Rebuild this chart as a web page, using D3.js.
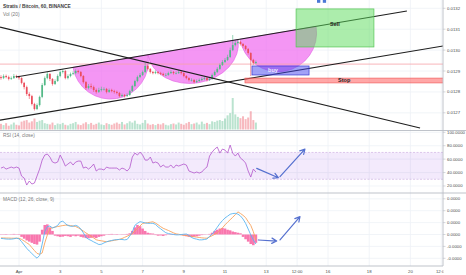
<!DOCTYPE html>
<html>
<head>
<meta charset="utf-8">
<script src="https://cdn.jsdelivr.net/npm/d3@7"></script>
<style>
  body { margin: 0; background: #fff; }
  svg { display: block; font-family: "Liberation Sans", Arial, sans-serif; }
  .axisText { font-size: 4.3px; fill: #4a4a4a; }
  .paneLabel { font-size: 4.8px; fill: #7a7a7a; }
</style>
</head>
<body>
<svg id="chart" width="466" height="275"></svg>
<script>
// ---- data (prices and MACD in units of 1e-6 BTC) ----
const xTickDays   = [1, 3, 5, 7, 9, 11, 13, 14.5, 16, 18, 20, 21.5];
const xTickLabels = ['Apr', '3', '5', '7', '9', '11', '13', '12:00', '16', '18', '20', '12:00'];
const priceTicks = [12700, 12800, 12900, 13000, 13100, 13200];
const rsiTicks = [20, 40, 60, 80, 100];
const macdTicks = [-20, -10, 0, 10, 20, 30];

const firstOpen = 12871;
const closes = [12866,12876,12871,12862,12866,12876,12871,12866,12843,12823,
  12790,12780,12742,12718,12737,12776,12833,12866,12886,12862,
  12838,12852,12876,12895,12900,12866,12876,12886,12890,12900,
  12895,12876,12847,12819,12828,12823,12809,12800,12809,12814,
  12814,12800,12809,12804,12800,12795,12780,12785,12780,12785,
  12804,12828,12852,12871,12881,12895,12924,12910,12895,12890,
  12895,12890,12886,12881,12881,12890,12895,12890,12890,12895,
  12890,12876,12866,12857,12857,12847,12852,12857,12862,12866,
  12857,12862,12881,12895,12910,12929,12943,12953,12967,13000,
  13024,13034,13039,13029,13020,13005,12986,12953,12938,12943];
const highs = [12880,12884,12883,12878,12874,12886,12882,12878,12870,12848,
  12830,12798,12786,12748,12745,12782,12842,12874,12895,12890,
  12866,12860,12884,12902,12910,12905,12884,12893,12898,12908,
  12906,12900,12880,12852,12838,12840,12830,12816,12820,12825,
  12822,12819,12816,12815,12810,12806,12800,12792,12790,12793,
  12810,12834,12858,12878,12890,12902,12938,12930,12914,12900,
  12903,12900,12896,12892,12890,12897,12904,12900,12898,12905,
  12900,12894,12880,12870,12865,12862,12860,12864,12870,12874,
  12872,12870,12888,12902,12918,12936,12952,12962,12978,13012,
  13072,13045,13050,13044,13034,13024,13010,12990,12958,12950];
const lows = [12858,12861,12865,12855,12857,12862,12866,12858,12836,12812,
  12781,12766,12735,12711,12713,12730,12770,12828,12860,12852,
  12830,12833,12848,12870,12888,12860,12860,12870,12880,12884,
  12888,12870,12840,12810,12812,12815,12800,12792,12795,12802,
  12806,12793,12795,12798,12792,12788,12774,12775,12773,12776,
  12781,12800,12823,12846,12866,12876,12890,12903,12888,12884,
  12885,12884,12880,12875,12874,12877,12886,12883,12884,12886,
  12883,12870,12860,12850,12850,12840,12842,12848,12852,12856,
  12850,12852,12858,12876,12890,12905,12924,12938,12948,12962,
  12995,13018,13028,13022,13012,12998,12978,12876,12930,12934];
const volumes = [18,14,20,12,16,22,15,13,25,28,
  30,22,26,35,24,28,30,20,18,16,
  22,14,19,17,21,15,13,18,20,24,
  16,14,19,23,17,21,15,18,22,16,
  14,20,17,15,19,22,18,24,16,20,
  26,22,28,18,16,21,30,19,15,17,
  14,18,16,20,15,13,17,19,16,22,
  18,15,20,24,17,19,22,16,25,18,
  21,17,26,24,28,30,27,35,45,52,
  100,48,40,36,42,33,38,58,30,22];
const rsi = [46.7,48.2,45.2,46.7,48.2,46.7,48.2,46.7,34.8,31.8,
  21.4,27.4,22.9,24.4,34.8,45.2,58.6,66.1,67.6,63.1,
  55.7,54.2,55.7,66.1,58.6,49.7,52.7,55.7,51.2,55.7,
  57.1,57.1,46.7,48.2,45.2,48.2,52.7,42.3,45.2,45.2,
  43.8,48.2,46.7,46.7,46.7,46.7,43.8,46.7,45.2,42.3,
  46.7,63.1,69.0,66.1,70.5,66.1,58.6,58.6,63.1,54.2,
  55.7,54.2,48.2,51.2,48.2,48.2,51.2,46.7,51.2,49.7,
  51.2,52.7,51.2,42.3,40.8,39.3,40.8,39.3,40.8,45.2,
  48.2,64.6,70.5,75.0,78.0,69.0,75.0,73.5,69.0,81.0,
  69.0,64.6,69.0,61.6,58.6,54.2,42.3,33.3,45.2,40.8];
const macd = [-3.3,-3.5,-3.8,-3.9,-3.9,-3.6,-3.1,-3.6,-6.0,-8.8,
  -11.6,-13.9,-16.0,-18.1,-19.9,-17.6,-8.0,2.5,6.7,7.1,
  5.5,6.3,7.6,10.5,11.3,9.1,7.6,6.9,7.0,7.7,
  6.8,4.6,1.4,-2.4,-4.0,-5.0,-6.2,-7.3,-8.4,-8.2,
  -7.1,-6.1,-5.5,-5.0,-4.5,-4.3,-4.1,-4.2,-4.5,-4.2,
  -1.3,2.1,7.7,9.4,10.8,10.3,9.7,9.4,9.4,9.4,
  8.5,6.4,4.8,3.1,1.5,0.8,0.4,0,-0.3,-0.3,
  0,0.2,0.4,-0.8,-2.5,-3.4,-3.9,-4.5,-4.5,-4.2,
  -3.8,-1.5,0.2,3.1,6.1,9.2,11.7,13.9,15.4,17.0,
  17.6,17.8,17.1,15.6,13.0,9.4,4.6,-0.3,-4.7,-8.0];
const signal = [-2.9,-2.9,-3.0,-3.0,-3.1,-3.1,-3.1,-3.2,-4.1,-5.5,
  -7.0,-8.4,-11.0,-13.5,-15.9,-16.6,-15.5,-7.1,-0.4,5.0,
  5.7,6.2,6.7,7.1,7.5,7.8,7.8,7.5,7.1,6.7,
  5.7,4.3,2.9,1.3,0,-1.4,-2.9,-4.4,-5.0,-5.3,
  -5.7,-6.1,-5.7,-5.3,-4.9,-4.5,-4.1,-3.4,-2.4,-1.4,
  -0.4,0.6,2.9,5.0,7.2,9.3,9.7,10.0,10.3,10.7,
  9.6,8.2,6.6,5.2,4.3,3.4,2.4,1.4,0.5,0.2,
  -0.3,-0.6,-0.9,-1.3,-1.6,-1.9,-2.2,-2.5,-2.8,-3.0,
  -3.1,-2.1,-1.0,0.1,1.3,3.4,5.6,8.1,10.3,12.4,
  14.5,16.7,19.0,17.7,16.1,14.2,10.8,7.7,2.4,-4.6];
const hist = [0.3,-0.3,0.4,-0.2,0.3,0.5,-0.3,0.4,
  -2,-3.5,-5,-6,-7,-8,-8.5,-6,
  4,8,8.5,6,3,
  -1,-1.5,-2,-1.8,-1.2,-1.5,-2,-1,-1.5,-1,
  -2,-2.5,-3,-3.2,-2.8,-2.5,-3,-2,-1.5,-1,
  0.3,-0.4,0.5,-0.3,0.4,0.2,-0.3,0.3,0.5,1,
  3,6,8,7,5,3,
  1.5,1,0.8,-0.5,-1,-0.8,-1.2,-0.6,0.3,-0.4,0.5,-0.3,0.2,
  -0.5,-1,-1.5,-2,-2.2,-1.8,-1.5,-1,
  -0.5,0.3,-0.2,0.5,
  1.5,3,4,5,5.5,5,4,3.5,2.5,
  2,1.5,1,
  -2,-4,-6,-8,-9,-7];

// drawings, in [day, value]
const upperChannel = [[0.854, 12871], [19.83, 13187]];
const lowerChannel = [[0.078, 12665], [21.6, 13020]];
const downLine     = [[0.078, 13110], [20.47, 12627]];
const cups = [[3.62, 7.26, 38], [7.26, 11.63, 36], [11.73, 15.42, 39]];
const sellBox = [14.45, 18.23, 13197, 13015];
const buyBox  = [12.31, 15.08, 12924, 12881];
const stopBox = [11.97, 21.6, 12866, 12843];
const lastPrice = 12933;
const rsiArrows  = [[[12.54, 46.3], [13.59, 32.3]], [[13.67, 33.8], [14.88, 75]]];
const macdArrows = [[[12.62, -4.6], [13.51, -5.5]], [[13.67, -4.6], [14.64, 15.0]]];

// ---- layout ----
const plotRight = 443;
const svg = d3.select('#chart');

const x = d3.scaleLinear().domain([1, 20]).range([19, 410.4]);
const yPrice = d3.scaleLinear().domain([12700, 13200]).range([112.8, 8.3]);
const yVol = d3.scaleLinear().domain([0, 100]).range([129.5, 98]);
const yRsi = d3.scaleLinear().domain([0, 100]).range([199.4, 132.3]);
const yMacd = d3.scaleLinear().domain([-20, 30]).range([258.3, 198.8]);
const candleDay = i => 0.125 + i / 8;   // 3h candles
const step = x(candleDay(1)) - x(candleDay(0));

const candles = closes.map((c, i) => ({
  t: candleDay(i), o: i ? closes[i - 1] : firstOpen, c: c, h: highs[i], l: lows[i], v: volumes[i]
}));

const green = '#53b987', red = '#eb4d5c';

let defs = svg.append('defs');
[['clipMain', 0, 130.5], ['clipRsi', 130.5, 193], ['clipMacd', 193, 266]].forEach(function(c) {
  defs.append('clipPath').attr('id', c[0]).append('rect')
    .attr('x', 0).attr('y', c[1]).attr('width', plotRight).attr('height', c[2] - c[1]);
});

// ---- grid ----
let grid = svg.append('g').attr('stroke', '#eef1f6').attr('stroke-width', 0.8);
xTickDays.forEach(function(d) {
  if (x(d) < plotRight) grid.append('line').attr('x1', x(d)).attr('x2', x(d)).attr('y1', 0).attr('y2', 266);
});
priceTicks.forEach(function(p) {
  grid.append('line').attr('x1', 0).attr('x2', plotRight).attr('y1', yPrice(p)).attr('y2', yPrice(p));
});
rsiTicks.forEach(function(r) {
  grid.append('line').attr('x1', 0).attr('x2', plotRight).attr('y1', yRsi(r)).attr('y2', yRsi(r));
});
macdTicks.forEach(function(m) {
  grid.append('line').attr('x1', 0).attr('x2', plotRight).attr('y1', yMacd(m)).attr('y2', yMacd(m));
});

// ---- main pane ----
let main = svg.append('g').attr('clip-path', 'url(#clipMain)');

main.append('g').selectAll('rect')
  .data(candles).enter().append('rect')
  .attr('x', d => x(d.t) - step / 2 + 0.3)
  .attr('width', step - 0.6)
  .attr('y', d => yVol(d.v))
  .attr('height', d => yVol(0) - yVol(d.v))
  .attr('fill', d => d.c >= d.o ? green : red)
  .attr('opacity', 0.4);

let upperY = d3.scaleLinear().domain([upperChannel[0][0], upperChannel[1][0]])
  .range([upperChannel[0][1], upperChannel[1][1]]);
cups.forEach(function(c) {
  let ax = x(c[0]), ay = yPrice(upperY(c[0])), bx = x(c[1]), by = yPrice(upperY(c[1]));
  let rx = Math.hypot(bx - ax, by - ay) / 2;
  let ang = Math.atan2(by - ay, bx - ax) * 180 / Math.PI;
  main.append('path')
    .attr('d', `M${ax},${ay}A${rx},${c[2]} ${ang} 0 0 ${bx},${by}Z`)
    .attr('fill', 'rgba(240,110,240,0.72)')
    .attr('stroke', '#e060e0').attr('stroke-width', 0.6);
});

main.append('line').attr('x1', 0).attr('x2', plotRight)
  .attr('y1', yPrice(lastPrice)).attr('y2', yPrice(lastPrice))
  .attr('stroke', '#f6a3a8').attr('stroke-width', 0.8);

let cg = main.append('g').selectAll('g').data(candles).enter().append('g')
  .attr('stroke', d => d.c >= d.o ? green : red)
  .attr('fill', d => d.c >= d.o ? green : red);
cg.append('line')
  .attr('x1', d => x(d.t)).attr('x2', d => x(d.t))
  .attr('y1', d => yPrice(d.h)).attr('y2', d => yPrice(d.l))
  .attr('stroke-width', 0.6);
cg.append('rect')
  .attr('x', d => x(d.t) - 0.85).attr('width', 1.7)
  .attr('y', d => yPrice(Math.max(d.o, d.c)))
  .attr('height', d => Math.max(0.6, Math.abs(yPrice(d.o) - yPrice(d.c))))
  .attr('stroke', 'none');

[upperChannel, lowerChannel, downLine].forEach(function(l) {
  main.append('line')
    .attr('x1', x(l[0][0])).attr('y1', yPrice(l[0][1]))
    .attr('x2', x(l[1][0])).attr('y2', yPrice(l[1][1]))
    .attr('stroke', '#1e1e1e').attr('stroke-width', 1.1);
});

function box(b, fill, stroke) {
  return main.append('rect')
    .attr('x', x(b[0])).attr('width', x(b[1]) - x(b[0]))
    .attr('y', yPrice(b[2])).attr('height', yPrice(b[3]) - yPrice(b[2]))
    .attr('fill', fill).attr('stroke', stroke).attr('stroke-width', 0.7);
}
box(sellBox, 'rgba(90,220,90,0.5)', '#55c455');
box(buyBox, 'rgba(70,70,240,0.5)', '#3a3ad0');
box(stopBox, 'rgba(255,80,80,0.5)', '#f06060');

main.append('text').attr('x', (x(sellBox[0]) + x(sellBox[1])) / 2).attr('y', yPrice(sellBox[2]) + 17)
  .attr('text-anchor', 'middle').attr('font-size', 5.5).attr('font-weight', 'bold').attr('fill', '#222').text('Sell');
main.append('text').attr('x', x(buyBox[0]) + 21).attr('y', yPrice(buyBox[2]) + 6.5)
  .attr('text-anchor', 'middle').attr('font-size', 5.5).attr('font-weight', 'bold').attr('fill', '#eef').text('buy');
main.append('text').attr('x', (x(stopBox[0]) + x(stopBox[1])) / 2).attr('y', yPrice(stopBox[3]) - 0.6)
  .attr('text-anchor', 'middle').attr('font-size', 5.5).attr('font-weight', 'bold').attr('fill', '#222').text('Stop');

// small toolbar icon at the top
svg.append('rect').attr('x', 317).attr('y', 0).attr('width', 3.3).attr('height', 2.8).attr('fill', '#4a78d6');
svg.append('rect').attr('x', 322.8).attr('y', 0).attr('width', 3.3).attr('height', 2.8).attr('fill', '#4a78d6');

// ---- RSI pane ----
let rsiG = svg.append('g').attr('clip-path', 'url(#clipRsi)');
rsiG.append('rect').attr('x', 0).attr('width', plotRight)
  .attr('y', yRsi(70)).attr('height', yRsi(30) - yRsi(70))
  .attr('fill', 'rgba(150,60,230,0.11)');
[70, 30].forEach(function(v) {
  rsiG.append('line').attr('x1', 0).attr('x2', plotRight).attr('y1', yRsi(v)).attr('y2', yRsi(v))
    .attr('stroke', '#c7a6de').attr('stroke-width', 0.6).attr('stroke-dasharray', '2,1.5');
});
rsiG.append('path').datum(rsi)
  .attr('d', d3.line().x((d, i) => x(candleDay(i))).y(d => yRsi(d)))
  .attr('fill', 'none').attr('stroke', '#b356cc').attr('stroke-width', 0.8);

// ---- MACD pane ----
let macdG = svg.append('g').attr('clip-path', 'url(#clipMacd)');
macdG.append('g').selectAll('rect').data(hist).enter().append('rect')
  .attr('x', (d, i) => x(candleDay(i)) - step / 2)
  .attr('width', step)
  .attr('y', d => yMacd(Math.max(0, d)))
  .attr('height', d => Math.abs(yMacd(d) - yMacd(0)))
  .attr('fill', '#f7559a').attr('opacity', 0.8);
macdG.append('path').datum(signal)
  .attr('d', d3.line().x((d, i) => x(candleDay(i))).y(d => yMacd(d)))
  .attr('fill', 'none').attr('stroke', '#f7a35c').attr('stroke-width', 0.9);
macdG.append('path').datum(macd)
  .attr('d', d3.line().x((d, i) => x(candleDay(i))).y(d => yMacd(d)))
  .attr('fill', 'none').attr('stroke', '#5bb6f0').attr('stroke-width', 0.9);

// ---- arrows ----
function arrow(ys, a, b) {
  let x0 = x(a[0]), y0 = ys(a[1]), x1 = x(b[0]), y1 = ys(b[1]);
  let ang = Math.atan2(y1 - y0, x1 - x0), L = 5.5;
  svg.append('path')
    .attr('d', `M${x0},${y0}L${x1},${y1}` +
      `M${x1 - L * Math.cos(ang - 0.5)},${y1 - L * Math.sin(ang - 0.5)}L${x1},${y1}` +
      `L${x1 - L * Math.cos(ang + 0.5)},${y1 - L * Math.sin(ang + 0.5)}`)
    .attr('fill', 'none').attr('stroke', '#5570cf').attr('stroke-width', 1.2)
    .attr('stroke-linecap', 'round').attr('stroke-linejoin', 'round');
}
rsiArrows.forEach(a => arrow(yRsi, a[0], a[1]));
macdArrows.forEach(a => arrow(yMacd, a[0], a[1]));

// ---- separators and axes ----
let sep = svg.append('g').attr('stroke', '#b8bcc4').attr('stroke-width', 0.9);
sep.append('line').attr('x1', 0).attr('x2', 466).attr('y1', 130.5).attr('y2', 130.5);
sep.append('line').attr('x1', 0).attr('x2', 466).attr('y1', 193).attr('y2', 193);
sep.append('line').attr('x1', 0).attr('x2', plotRight).attr('y1', 266).attr('y2', 266);
sep.append('line').attr('x1', plotRight).attr('x2', plotRight).attr('y1', 0).attr('y2', 266);

function yLabels(ticks, ys, fmt) {
  ticks.forEach(function(t) {
    svg.append('line').attr('x1', plotRight).attr('x2', plotRight + 2.5)
      .attr('y1', ys(t)).attr('y2', ys(t)).attr('stroke', '#b8bcc4').attr('stroke-width', 0.6);
    svg.append('text').attr('class', 'axisText')
      .attr('x', plotRight + 4).attr('y', ys(t) + 1.5).text(fmt(t));
  });
}
yLabels(priceTicks, yPrice, t => (t * 1e-6).toFixed(4));
yLabels(rsiTicks, yRsi, t => t.toFixed(4));
yLabels(macdTicks, yMacd, t => (t * 1e-6).toFixed(4));

let xl = svg.append('g');
xTickDays.forEach(function(d, i) {
  xl.append('text').attr('class', 'axisText')
    .attr('x', x(d)).attr('y', 272.5).attr('text-anchor', 'middle').text(xTickLabels[i]);
});
// the last x label is cut by the price axis area
svg.append('rect').attr('x', plotRight + 0.5).attr('y', 267).attr('width', 30).attr('height', 8).attr('fill', '#fff');

// ---- pane titles ----
svg.append('text').attr('x', 3).attr('y', 8.3).attr('font-size', 4.8).attr('font-weight', 'bold')
  .attr('fill', '#3c3c3c').text('Stratis / Bitcoin, 60, BINANCE');
svg.append('text').attr('class', 'paneLabel').attr('x', 3).attr('y', 16).text('Vol (20)');
svg.append('text').attr('class', 'paneLabel').attr('x', 3).attr('y', 137).text('RSI (14, close)');
svg.append('text').attr('class', 'paneLabel').attr('x', 3).attr('y', 201).text('MACD (12, 26, close, 9)');
</script>
</body>
</html>
